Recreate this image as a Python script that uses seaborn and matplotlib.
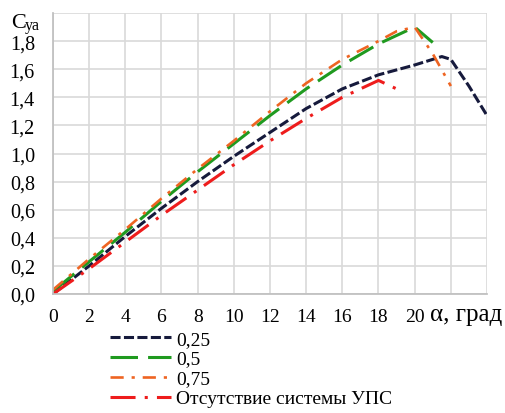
import matplotlib
matplotlib.use("Agg")
import matplotlib.pyplot as plt
import seaborn as sns
import numpy as np

sns.set_theme(style="whitegrid")
plt.rcParams['font.family'] = 'serif'
plt.rcParams['font.serif'] = ['Liberation Serif', 'DejaVu Serif']

# data
alpha_025 = [0, 2, 4, 6, 8, 10, 12, 14, 16, 18, 20, 21, 21.5, 22, 23, 24]
cy_025 = [0.0, 0.20, 0.41, 0.61, 0.80, 0.98, 1.15, 1.32, 1.46, 1.56, 1.63, 1.67, 1.69, 1.67, 1.48, 1.27]

alpha_05 = [0, 2, 4, 6, 8, 10, 12, 14, 16, 18, 19, 20, 21]
cy_05 = [0.02, 0.23, 0.44, 0.66, 0.87, 1.07, 1.27, 1.46, 1.63, 1.78, 1.84, 1.90, 1.79]

alpha_075 = [0, 2, 4, 6, 8, 10, 12, 14, 16, 18, 19, 20, 21, 22]
cy_075 = [0.03, 0.25, 0.46, 0.68, 0.89, 1.09, 1.30, 1.50, 1.67, 1.80, 1.87, 1.90, 1.71, 1.48]

alpha_none = [0, 2, 4, 6, 8, 10, 12, 14, 16, 18, 19]
cy_none = [0.0, 0.18, 0.37, 0.56, 0.74, 0.92, 1.09, 1.25, 1.40, 1.52, 1.46]

labels = ["0,25", "0,5", "0,75", "Отсутствие системы УПС"]
x_ticks = [0, 2, 4, 6, 8, 10, 12, 14, 16, 18, 20]
y_ticks = [0.0, 0.2, 0.4, 0.6, 0.8, 1.0, 1.2, 1.4, 1.6, 1.8]

fig = plt.figure(figsize=(5.06, 4.14), dpi=100)
ax = fig.add_axes([53/506, 1 - 295/414, (487 - 53)/506, (295 - 14)/414])
ax.set_facecolor('white')

series = [
    (alpha_025, cy_025, '#161a3c', 2.2, (0, (3.3, 1.1))),
    (alpha_05, cy_05, '#1f9a1f', 2.2, (0, (9.0, 3.3))),
    (alpha_075, cy_075, '#ee6422', 1.9, (0, (5.0, 3.0, 1.2, 3.0))),
    (alpha_none, cy_none, '#ee1c1c', 2.2, (0, (8.2, 3.0, 1.0, 3.0))),
]
for (xs, ys, c, lw, ls), lab in zip(series, labels):
    sns.lineplot(x=xs, y=ys, ax=ax, color=c, linewidth=lw, linestyle=ls,
                 label=lab, sort=False, estimator=None)

ax.set_xlim(0, 24)
ax.set_ylim(0, 2.0)
ax.set_xticks(np.arange(0, 25, 2))
ax.set_xticklabels([str(t) for t in x_ticks] + ["", ""])
ax.set_yticks(np.arange(0, 2.01, 0.2))
ax.set_yticklabels([f"{v:.1f}".replace('.', ',') for v in y_ticks] + [""])
ax.tick_params(axis='x', labelsize=14, pad=10, length=0, colors='black')
ax.tick_params(axis='y', labelsize=14.5, pad=13, length=0, colors='black')
ax.grid(True, color='#d9d9d9', linewidth=1.2)
for s in ax.spines.values():
    s.set_visible(False)
ax.spines['left'].set_visible(True)
ax.spines['bottom'].set_visible(True)
ax.spines['left'].set_color('#bfbfbf')
ax.spines['bottom'].set_color('#bfbfbf')
ax.set_xlabel("")
ax.set_ylabel("")

fig.text(11/506, 1 - 28/414, "C", fontsize=16, color='black', va='baseline')
fig.text(25/506, 1 - 30/414, "ya", fontsize=11.5, color='black', va='baseline')
fig.text(430/506, 1 - 321/414, "α, град", fontsize=18, color='black', va='baseline')

leg = ax.legend(loc='upper left', bbox_to_anchor=(110/506, 1 - 331/414),
                bbox_transform=fig.transFigure, frameon=False, fontsize=14,
                handlelength=3.15, handletextpad=0.25, labelspacing=0.12,
                borderaxespad=0, borderpad=0)
for t in leg.get_texts():
    t.set_color('black')

fig.savefig("out.png", dpi=100, facecolor='white')
